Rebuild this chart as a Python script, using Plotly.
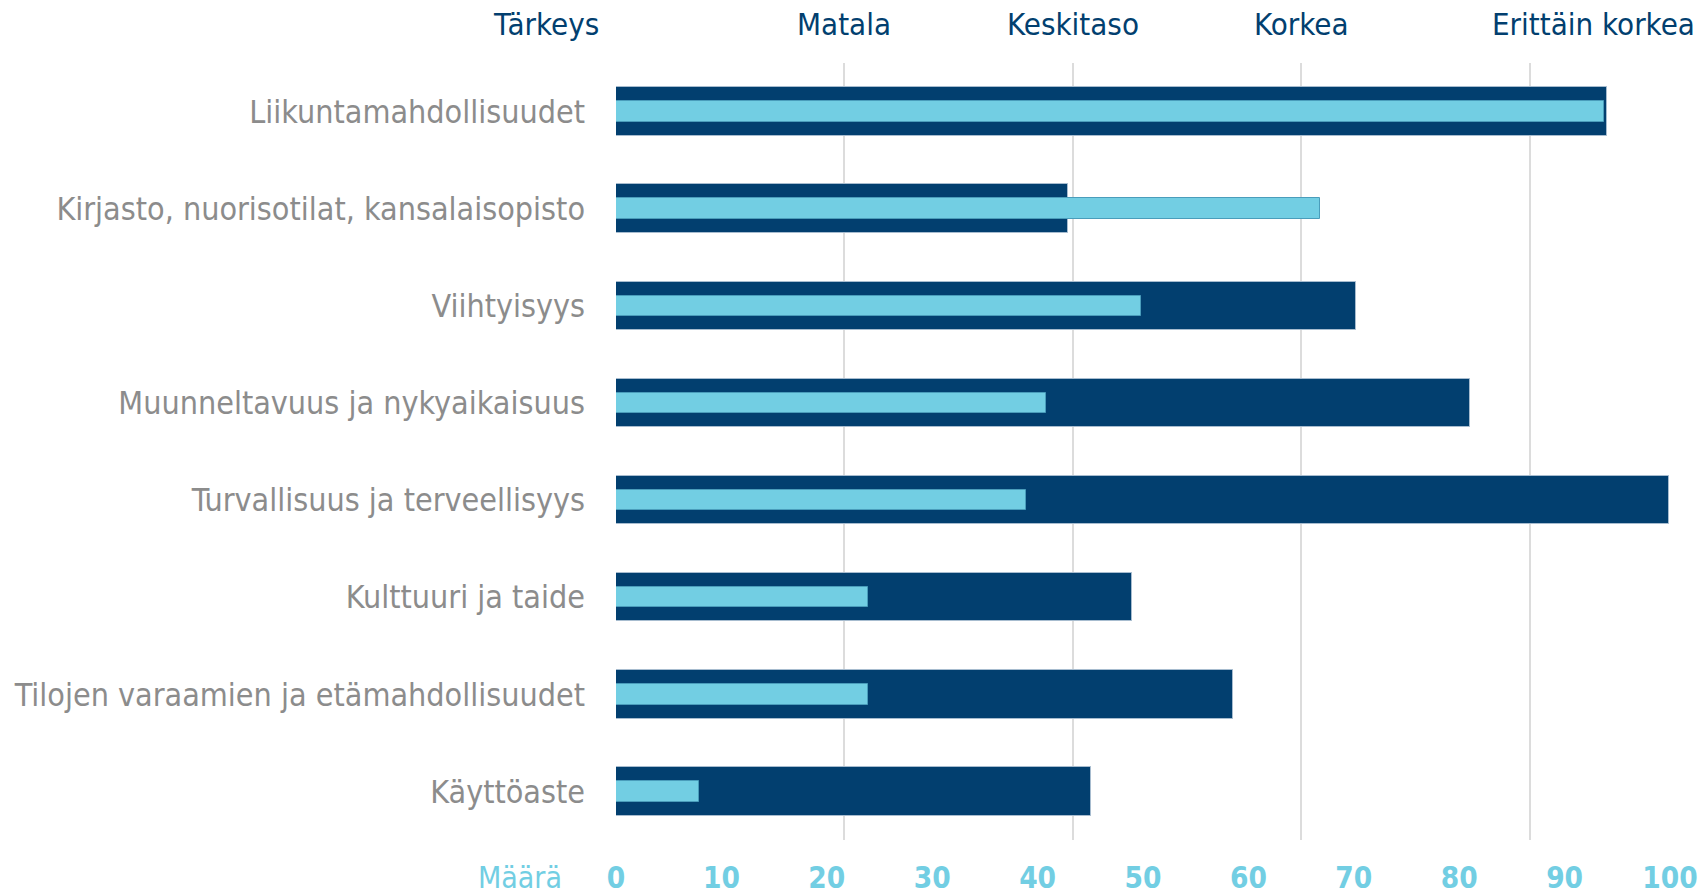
import plotly.graph_objects as go

categories = [
    "Liikuntamahdollisuudet",
    "Kirjasto, nuorisotilat, kansalaisopisto",
    "Viihtyisyys",
    "Muunneltavuus ja nykyaikaisuus",
    "Turvallisuus ja terveellisyys",
    "Kulttuuri ja taide",
    "Tilojen varaamien ja etämahdollisuudet",
    "Käyttöaste",
]
tarkeys = [4.34, 1.98, 3.24, 3.74, 4.61, 2.26, 2.70, 2.08]
maara = [93.7, 66.8, 49.8, 40.8, 38.9, 23.9, 23.9, 7.9]

tarkeys_ticks = [1, 2, 3, 4]
tarkeys_labels = ["Matala", "Keskitaso", "Korkea", "Erittäin korkea"]
maara_ticks = list(range(0, 101, 10))

DARK = "#023f6f"
LIGHT = "#72cee3"
GRAY = "#8c8c8c"
FONT = "DejaVu Sans Condensed, DejaVu Sans, sans-serif"

fig = go.Figure()
fig.add_trace(go.Bar(
    y=categories, x=tarkeys, orientation="h", width=0.5,
    marker=dict(color=DARK, line=dict(color="#a7bccf", width=1)),
    xaxis="x", yaxis="y", name="Tärkeys", showlegend=False,
))
fig.add_trace(go.Bar(
    y=categories, x=maara, orientation="h", width=0.21,
    marker=dict(color=LIGHT, line=dict(color="#4a9dbb", width=1)),
    xaxis="x2", yaxis="y", name="Määrä", showlegend=False,
))

annotations = [
    dict(text="Tärkeys", xref="paper", yref="paper", x=0, y=1, xanchor="right",
         yanchor="middle", xshift=-15, yshift=39, showarrow=False,
         font=dict(family=FONT, size=31, color=DARK)),
    dict(text="Määrä", xref="paper", yref="paper", x=0, y=0, xanchor="right",
         yanchor="middle", xshift=-52, yshift=-37, showarrow=False,
         font=dict(family=FONT, size=30, color=LIGHT)),
]
for i, (tv, tl) in enumerate(zip(tarkeys_ticks, tarkeys_labels)):
    last = i == len(tarkeys_ticks) - 1
    annotations.append(dict(
        text=tl, xref="paper" if last else "x", yref="paper",
        x=1 if last else tv, y=1, xanchor="right" if last else "center",
        xshift=27 if last else 0, yanchor="middle", yshift=39, showarrow=False,
        font=dict(family=FONT, size=31, color=DARK),
    ))

fig.update_layout(
    width=1703, height=895,
    margin=dict(l=616, r=33, t=63, b=55, autoexpand=False),
    paper_bgcolor="white", plot_bgcolor="white",
    bargap=0,
    xaxis=dict(side="top", range=[0, 4.614], tickvals=[0] + tarkeys_ticks,
               showticklabels=False, showgrid=True, gridcolor="#dcdcdc",
               gridwidth=1.5, zeroline=False, showline=False, ticks="",
               automargin=False),
    xaxis2=dict(overlaying="x", side="bottom", range=[0, 100], tickvals=maara_ticks,
                showgrid=False, zeroline=False, showline=False, ticks="",
                tickfont=dict(family=FONT, size=29.5, color=LIGHT, weight="bold"),
                ticklabelstandoff=17, automargin=False),
    yaxis=dict(autorange="reversed", showgrid=False, zeroline=False, ticks="",
               tickfont=dict(family=FONT, size=32, color=GRAY),
               ticklabelstandoff=30, automargin=False),
    annotations=annotations,
)

fig.write_html("out.html", config={"displayModeBar": False},
               post_script="document.body.style.margin = '0';")
